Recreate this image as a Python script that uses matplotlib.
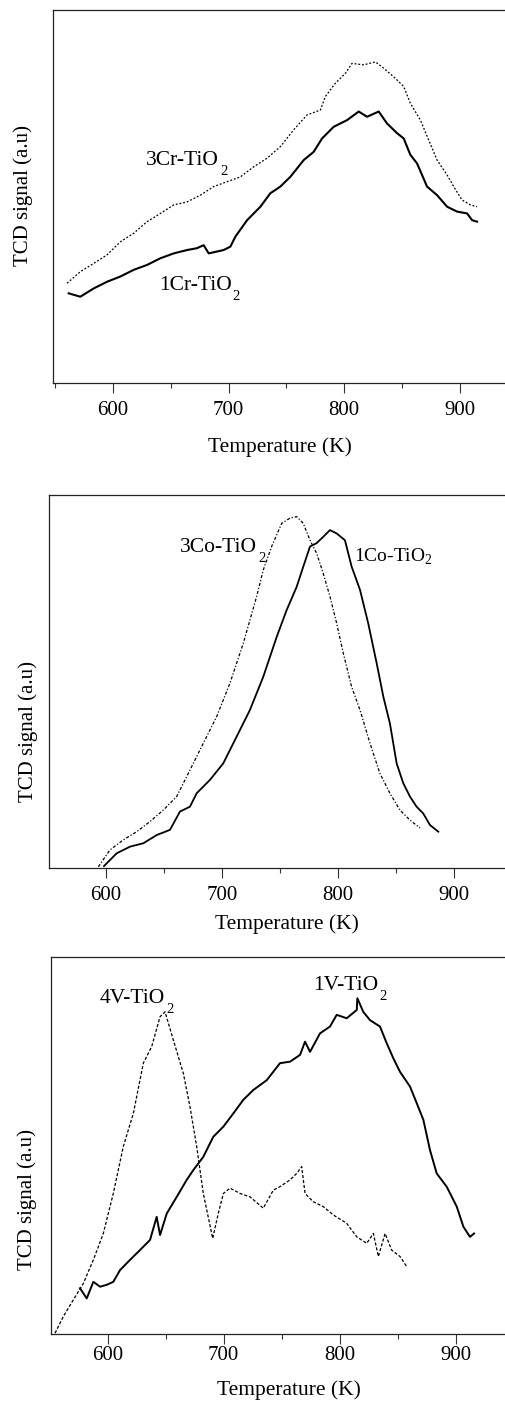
import numpy as np
import matplotlib
matplotlib.use("Agg")
import matplotlib.pyplot as plt
from matplotlib.ticker import MultipleLocator

plt.rcParams['font.family'] = ['Liberation Serif', 'DejaVu Serif']
plt.rcParams['mathtext.fontset'] = 'custom'
plt.rcParams['mathtext.rm'] = 'Liberation Serif'

# ---- panel 1 : Cr ----
t_1cr = [561.6, 571.7, 583.2, 594.8, 606.3, 617.9, 629.4, 641.0, 652.5, 664.1, 672.7, 678.4,
         682.8, 690.0, 695.7, 701.5, 705.9, 716.0, 727.5, 736.1, 744.8, 753.4, 765.0, 773.6,
         780.9, 790.9, 802.5, 812.6, 819.8, 829.9, 837.1, 845.8, 851.5, 857.3, 863.1, 871.7,
         880.4, 889.1, 897.7, 906.4, 910.7, 915.0]
s_1cr = [24.1, 23.2, 25.4, 27.2, 28.6, 30.4, 31.7, 33.5, 34.8, 35.7, 36.2, 37.0,
         34.8, 35.3, 35.7, 36.6, 39.3, 43.7, 47.3, 50.9, 52.7, 55.3, 59.8, 62.0,
         65.6, 68.7, 70.5, 72.8, 71.4, 72.8, 69.6, 67.0, 65.6, 61.2, 58.9, 52.7,
         50.4, 47.3, 46.0, 45.5, 43.7, 43.3]

t_3cr = [560.2, 571.7, 583.2, 594.8, 606.3, 617.9, 629.4, 641.0, 652.5, 664.1, 675.6, 687.1,
         698.7, 710.2, 721.7, 733.3, 744.8, 756.3, 767.9, 779.4, 783.7, 792.4, 801.0, 806.8,
         816.9, 827.0, 834.2, 844.3, 851.5, 857.3, 866.0, 873.1, 880.4, 889.1, 894.8, 902.0,
         909.2, 915.0]
s_3cr = [26.8, 29.9, 32.1, 34.4, 37.9, 40.2, 43.3, 45.5, 47.8, 48.6, 50.4, 52.7,
         54.0, 55.3, 58.0, 60.3, 63.4, 67.9, 71.9, 73.2, 76.8, 80.4, 83.0, 85.7,
         85.3, 86.1, 84.4, 81.7, 79.5, 75.0, 70.5, 65.2, 59.8, 55.8, 52.7, 49.1,
         47.8, 47.3]

# ---- panel 2 : Co ----
t_1co = [598.3, 609.2, 620.7, 632.2, 643.7, 655.2, 663.8, 672.4, 678.2, 689.7, 701.1, 712.7,
         724.1, 735.6, 747.2, 755.8, 764.4, 770.1, 775.9, 781.6, 787.3, 793.1, 798.9, 806.0,
         811.8, 819.0, 826.1, 833.4, 839.1, 844.8, 850.6, 856.3, 862.1, 867.8, 873.5, 879.3,
         886.5]
s_1co = [0.6, 4.0, 5.8, 6.7, 8.9, 10.3, 15.2, 16.5, 20.1, 23.7, 28.1, 35.3,
         42.4, 51.3, 62.0, 69.2, 75.4, 80.8, 86.2, 87.1, 88.8, 90.6, 89.7, 87.9,
         80.8, 74.6, 65.6, 54.9, 46.0, 38.8, 28.1, 22.8, 19.2, 16.5, 14.7, 11.6,
         9.8]

t_3co = [593.4, 603.4, 614.9, 626.5, 637.9, 649.4, 660.9, 672.4, 683.9, 695.4, 706.9, 718.4,
         724.1, 729.9, 735.6, 742.8, 751.5, 758.6, 764.4, 770.1, 775.9, 781.6, 787.3, 793.1,
         798.9, 804.6, 811.8, 819.0, 827.6, 836.2, 844.8, 853.4, 862.1, 870.7]
s_3co = [0.4, 4.9, 7.6, 9.8, 12.5, 15.6, 19.2, 26.3, 33.5, 40.6, 49.6, 60.3,
         66.5, 72.8, 79.9, 86.2, 92.4, 93.8, 94.2, 92.4, 87.9, 84.4, 79.0, 72.8,
         65.6, 57.6, 48.6, 42.4, 33.5, 25.4, 20.1, 15.6, 12.9, 10.8]

# ---- panel 3 : V ----
t_1v = [576.1, 581.9, 587.6, 593.4, 599.1, 604.8, 610.6, 619.2, 627.8, 636.5, 642.2, 645.1,
        650.9, 659.5, 668.1, 673.8, 682.4, 691.0, 699.7, 708.3, 716.9, 725.5, 737.1, 748.5,
        757.2, 765.8, 770.1, 774.4, 783.0, 791.6, 797.4, 806.0, 814.7, 815.2, 820.3, 826.1,
        834.7, 840.5, 846.2, 852.0, 860.6, 866.4, 872.1, 877.8, 883.6, 892.2, 900.9, 906.6,
        912.3, 915.8]
s_1v = [12.2, 9.5, 13.9, 12.6, 13.1, 13.9, 17.0, 19.7, 22.3, 25.0, 31.1, 26.3,
        32.0, 36.4, 40.9, 43.5, 47.0, 52.3, 55.0, 58.5, 62.1, 64.7, 67.3, 71.8,
        72.2, 74.0, 77.5, 74.8, 79.7, 81.5, 84.6, 83.7, 85.9, 89.0, 85.4, 83.2,
        81.5, 77.1, 73.1, 69.5, 65.6, 61.2, 56.8, 48.8, 42.6, 39.1, 33.8, 28.5,
        25.8, 26.7]

t_4v = [554.6, 561.7, 570.3, 579.0, 587.6, 596.2, 604.8, 613.4, 622.1, 630.7, 637.9, 645.1,
        649.4, 656.6, 665.2, 670.9, 676.7, 682.4, 690.5, 695.3, 699.7, 705.4, 714.1, 722.7,
        734.1, 742.8, 748.5, 757.2, 762.9, 767.2, 770.1, 777.2, 785.9, 794.5, 806.0, 814.7,
        823.3, 829.0, 833.3, 839.1, 844.8, 852.0, 857.8]
s_4v = [0.3, 4.7, 9.1, 13.5, 19.7, 26.7, 37.3, 49.7, 58.5, 71.8, 76.2, 84.1,
        85.4, 77.9, 69.1, 60.3, 49.7, 37.3, 25.4, 32.0, 37.3, 38.7, 37.3, 36.4,
        33.4, 38.2, 39.1, 40.9, 42.6, 44.4, 37.3, 35.1, 33.8, 31.6, 29.4, 25.8,
        24.1, 26.7, 20.6, 26.7, 22.3, 20.6, 17.9]

W, H = 505, 1401
fig = plt.figure(figsize=(W / 100, H / 100), dpi=100)


def make_axes(left_px, top_px, bottom_px, xmin, px_per_k, xmax=960):
    # axes placed in pixel units, right side runs off the figure like the scan
    width = (xmax - xmin) * px_per_k
    ax = fig.add_axes([left_px / W, (H - bottom_px) / H, width / W, (bottom_px - top_px) / H])
    ax.set_xlim(xmin, xmax)
    ax.set_ylim(0, 100)
    ax.set_yticks([])
    ax.xaxis.set_major_locator(MultipleLocator(100))
    ax.xaxis.set_minor_locator(MultipleLocator(50))
    ax.tick_params(axis='x', which='major', direction='out', length=7, width=0.8,
                   labelsize=15, pad=6, color='#333333')
    ax.tick_params(axis='x', which='minor', direction='out', length=3.5, width=0.8,
                   color='#333333')
    for sp in ax.spines.values():
        sp.set_linewidth(0.9)
        sp.set_color('#222222')
    return ax


def label(ax, x, y, s, size=15.5):
    # the scan sets the "2" well below the baseline, not as a tight subscript
    t = ax.text(x, y, s, fontsize=size, va='baseline')
    ax.annotate('2', xy=(1, 0), xycoords=t, xytext=(1, -3.5), textcoords='offset points',
                fontsize=10.5, va='baseline')


ax1 = make_axes(53.3, 10, 383.3, 548.3, 1.1556)
ax1.plot(t_1cr, s_1cr, color='black', lw=1.5)
ax1.plot(t_3cr, s_3cr, color='black', lw=0.9, dashes=(1.5, 1.5))
label(ax1, 628.6, 58.5, '3Cr-TiO')
label(ax1, 639.5, 25.0, '1Cr-TiO')

ax2 = make_axes(49, 495, 868.3, 550.9, 1.16)
ax2.plot(t_1co, s_1co, color='black', lw=1.3)
ax2.plot(t_3co, s_3co, color='black', lw=0.9, dashes=(2.5, 1.5, 1, 1.5))
label(ax2, 663.8, 84.8, '3Co-TiO')
ax2.text(813.8, 82.1, r'1Co-TiO$_\mathregular{2}$', fontsize=14)

ax3 = make_axes(51, 956.7, 1334.3, 551.1, 1.16)
ax3.plot(t_1v, s_1v, color='black', lw=1.4)
ax3.plot(t_4v, s_4v, color='black', lw=0.9, dashes=(2.5, 1.5))
label(ax3, 593.4, 87.7, '4V-TiO')
label(ax3, 777.2, 91.2, '1V-TiO')
ax3.tick_params(axis='x', which='major', pad=1.5)

# axis titles, placed where the scan has them
for x, y in [(23, 196), (28, 731), (27, 1199)]:
    fig.text(x / W, (H - y) / H, 'TCD signal (a.u)', rotation=90, fontsize=15,
             ha='center', va='center')
for x, y in [(280, 447), (287, 924), (289, 1390)]:
    fig.text(x / W, (H - y) / H, 'Temperature (K)', fontsize=15.5, ha='center', va='center')

fig.savefig('out.png', dpi=100)
